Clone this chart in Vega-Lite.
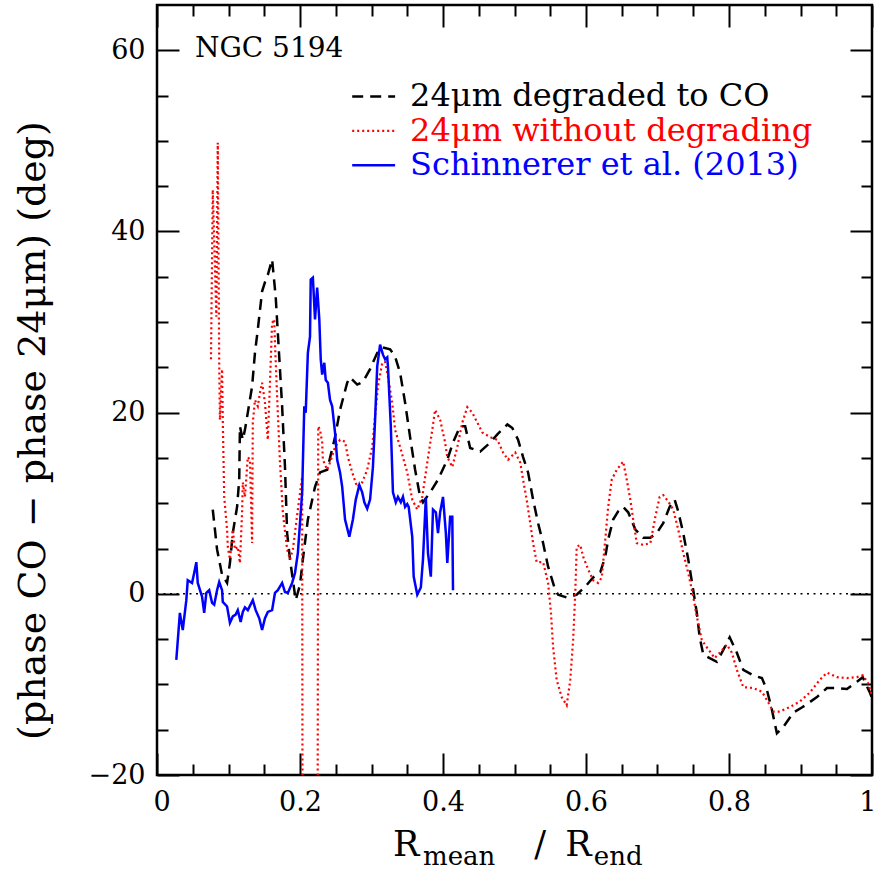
{
  "$schema": "https://vega.github.io/schema/vega-lite/v6.json",
  "width": 715,
  "height": 770,
  "autosize": {"type": "none"},
  "padding": {"left": 157, "top": 5, "right": 6, "bottom": 98},
  "background": "white",
  "config": {
    "view": {"stroke": "black", "strokeWidth": 2.5},
    "font": "DejaVu Serif",
    "axis": {
      "domain": false,
      "grid": false,
      "tickColor": "black",
      "tickWidth": 2,
      "labelColor": "black",
      "labelFont": "DejaVu Serif",
      "labelFontSize": 27,
      "labelOverlap": false,
      "labelFlush": false,
      "titleFont": "DejaVu Serif",
      "titleFontWeight": "normal",
      "titleColor": "black"
    }
  },
  "datasets": {
    "one": [{}],
    "curves": [
      {"s":"a","r":0.078,"p":9.3},{"s":"a","r":0.084,"p":4.9},{"s":"a","r":0.091,"p":2.1},{"s":"a","r":0.098,"p":1.2},{"s":"a","r":0.102,"p":3.4},{"s":"a","r":0.106,"p":6.7},{"s":"a","r":0.112,"p":9.6},{"s":"a","r":0.115,"p":12.6},{"s":"a","r":0.116,"p":18.5},{"s":"a","r":0.120,"p":17.0},{"s":"a","r":0.123,"p":18.1},{"s":"a","r":0.127,"p":20.0},{"s":"a","r":0.133,"p":22.9},{"s":"a","r":0.137,"p":26.6},{"s":"a","r":0.141,"p":29.2},{"s":"a","r":0.147,"p":33.4},{"s":"a","r":0.151,"p":34.4},{"s":"a","r":0.155,"p":35.2},{"s":"a","r":0.161,"p":36.9},{"s":"a","r":0.166,"p":32.8},{"s":"a","r":0.169,"p":28.8},{"s":"a","r":0.175,"p":20.7},{"s":"a","r":0.179,"p":14.0},{"s":"a","r":0.182,"p":6.7},{"s":"a","r":0.186,"p":3.8},{"s":"a","r":0.194,"p":-0.7},{"s":"a","r":0.200,"p":1.0},{"s":"a","r":0.204,"p":3.8},{"s":"a","r":0.211,"p":8.2},{"s":"a","r":0.221,"p":11.8},{"s":"a","r":0.228,"p":13.4},{"s":"a","r":0.238,"p":13.7},{"s":"a","r":0.249,"p":17.3},{"s":"a","r":0.256,"p":20.3},{"s":"a","r":0.266,"p":23.3},{"s":"a","r":0.270,"p":23.9},{"s":"a","r":0.280,"p":23.1},{"s":"a","r":0.288,"p":23.4},{"s":"a","r":0.298,"p":24.8},{"s":"a","r":0.308,"p":26.6},{"s":"a","r":0.316,"p":27.2},{"s":"a","r":0.326,"p":27.0},{"s":"a","r":0.333,"p":26.2},{"s":"a","r":0.340,"p":24.4},{"s":"a","r":0.347,"p":21.1},{"s":"a","r":0.354,"p":17.3},{"s":"a","r":0.361,"p":13.7},{"s":"a","r":0.368,"p":10.7},{"s":"a","r":0.372,"p":10.1},{"s":"a","r":0.382,"p":11.2},{"s":"a","r":0.393,"p":12.6},{"s":"a","r":0.406,"p":14.8},{"s":"a","r":0.414,"p":16.7},{"s":"a","r":0.424,"p":18.5},{"s":"a","r":0.431,"p":18.5},{"s":"a","r":0.438,"p":16.1},{"s":"a","r":0.452,"p":15.7},{"s":"a","r":0.466,"p":16.7},{"s":"a","r":0.476,"p":17.6},{"s":"a","r":0.490,"p":18.7},{"s":"a","r":0.497,"p":18.3},{"s":"a","r":0.505,"p":17.0},{"s":"a","r":0.512,"p":15.1},{"s":"a","r":0.519,"p":13.4},{"s":"a","r":0.526,"p":10.4},{"s":"a","r":0.533,"p":7.8},{"s":"a","r":0.540,"p":5.6},{"s":"a","r":0.547,"p":3.0},{"s":"a","r":0.557,"p":0.4},{"s":"a","r":0.561,"p":-0.1},{"s":"a","r":0.573,"p":-0.4},{"s":"a","r":0.587,"p":-0.1},{"s":"a","r":0.599,"p":0.8},{"s":"a","r":0.610,"p":1.8},{"s":"a","r":0.620,"p":2.4},{"s":"a","r":0.627,"p":4.1},{"s":"a","r":0.631,"p":6.0},{"s":"a","r":0.638,"p":8.2},{"s":"a","r":0.645,"p":9.1},{"s":"a","r":0.652,"p":9.6},{"s":"a","r":0.659,"p":9.0},{"s":"a","r":0.669,"p":7.1},{"s":"a","r":0.680,"p":6.2},{"s":"a","r":0.690,"p":6.2},{"s":"a","r":0.699,"p":6.7},{"s":"a","r":0.708,"p":7.8},{"s":"a","r":0.717,"p":9.6},{"s":"a","r":0.724,"p":10.4},{"s":"a","r":0.729,"p":9.1},{"s":"a","r":0.736,"p":6.7},{"s":"a","r":0.743,"p":3.8},{"s":"a","r":0.750,"p":0.4},{"s":"a","r":0.755,"p":-2.1},{"s":"a","r":0.759,"p":-4.8},{"s":"a","r":0.764,"p":-6.7},{"s":"a","r":0.773,"p":-7.1},{"s":"a","r":0.783,"p":-7.5},{"s":"a","r":0.792,"p":-6.2},{"s":"a","r":0.801,"p":-4.8},{"s":"a","r":0.811,"p":-6.5},{"s":"a","r":0.820,"p":-8.4},{"s":"a","r":0.834,"p":-9.0},{"s":"a","r":0.846,"p":-9.3},{"s":"a","r":0.853,"p":-10.6},{"s":"a","r":0.860,"p":-12.8},{"s":"a","r":0.867,"p":-15.4},{"s":"a","r":0.876,"p":-14.7},{"s":"a","r":0.890,"p":-13.1},{"s":"a","r":0.903,"p":-12.5},{"s":"a","r":0.923,"p":-11.4},{"s":"a","r":0.937,"p":-10.4},{"s":"a","r":0.951,"p":-10.4},{"s":"a","r":0.965,"p":-10.5},{"s":"a","r":0.979,"p":-9.7},{"s":"a","r":0.987,"p":-9.2},{"s":"a","r":0.997,"p":-10.9},{"s":"a","r":1.0,"p":-11.5},
      {"s":"b","r":0.0755,"p":25.9},{"s":"b","r":0.078,"p":44.6},{"s":"b","r":0.083,"p":30.6},{"s":"b","r":0.085,"p":49.8},{"s":"b","r":0.087,"p":25.5},{"s":"b","r":0.088,"p":19.2},{"s":"b","r":0.091,"p":24.8},{"s":"b","r":0.092,"p":19.2},{"s":"b","r":0.094,"p":10.7},{"s":"b","r":0.098,"p":7.1},{"s":"b","r":0.099,"p":5.2},{"s":"b","r":0.102,"p":3.8},{"s":"b","r":0.105,"p":6.0},{"s":"b","r":0.106,"p":7.1},{"s":"b","r":0.109,"p":4.9},{"s":"b","r":0.113,"p":5.2},{"s":"b","r":0.116,"p":3.4},{"s":"b","r":0.119,"p":9.0},{"s":"b","r":0.120,"p":12.3},{"s":"b","r":0.123,"p":10.7},{"s":"b","r":0.127,"p":15.1},{"s":"b","r":0.130,"p":14.8},{"s":"b","r":0.133,"p":5.6},{"s":"b","r":0.134,"p":18.9},{"s":"b","r":0.137,"p":21.4},{"s":"b","r":0.141,"p":20.7},{"s":"b","r":0.144,"p":22.2},{"s":"b","r":0.147,"p":23.3},{"s":"b","r":0.151,"p":21.1},{"s":"b","r":0.155,"p":17.0},{"s":"b","r":0.158,"p":23.3},{"s":"b","r":0.161,"p":29.9},{"s":"b","r":0.164,"p":30.3},{"s":"b","r":0.165,"p":27.7},{"s":"b","r":0.168,"p":21.8},{"s":"b","r":0.172,"p":14.5},{"s":"b","r":0.176,"p":9.0},{"s":"b","r":0.182,"p":4.9},{"s":"b","r":0.186,"p":3.8},{"s":"b","r":0.190,"p":4.9},{"s":"b","r":0.197,"p":9.3},{"s":"b","r":0.203,"p":12.9},{"s":"b","r":0.204,"p":-60},{"s":"b","r":0.224,"p":-60},{"s":"b","r":0.2255,"p":18.5},{"s":"b","r":0.228,"p":18.1},{"s":"b","r":0.231,"p":16.7},{"s":"b","r":0.232,"p":14.8},{"s":"b","r":0.238,"p":13.7},{"s":"b","r":0.242,"p":14.5},{"s":"b","r":0.249,"p":16.2},{"s":"b","r":0.256,"p":17.0},{"s":"b","r":0.263,"p":16.8},{"s":"b","r":0.267,"p":15.1},{"s":"b","r":0.273,"p":13.4},{"s":"b","r":0.280,"p":11.8},{"s":"b","r":0.287,"p":12.3},{"s":"b","r":0.294,"p":13.7},{"s":"b","r":0.301,"p":16.2},{"s":"b","r":0.305,"p":19.6},{"s":"b","r":0.309,"p":22.9},{"s":"b","r":0.315,"p":25.5},{"s":"b","r":0.319,"p":25.6},{"s":"b","r":0.323,"p":24.0},{"s":"b","r":0.329,"p":21.1},{"s":"b","r":0.333,"p":18.1},{"s":"b","r":0.340,"p":16.2},{"s":"b","r":0.350,"p":13.4},{"s":"b","r":0.357,"p":10.4},{"s":"b","r":0.364,"p":9.3},{"s":"b","r":0.371,"p":10.7},{"s":"b","r":0.378,"p":14.5},{"s":"b","r":0.385,"p":18.1},{"s":"b","r":0.389,"p":20.3},{"s":"b","r":0.396,"p":19.2},{"s":"b","r":0.403,"p":16.7},{"s":"b","r":0.406,"p":15.1},{"s":"b","r":0.413,"p":14.0},{"s":"b","r":0.420,"p":16.2},{"s":"b","r":0.427,"p":18.9},{"s":"b","r":0.434,"p":20.6},{"s":"b","r":0.441,"p":20.0},{"s":"b","r":0.448,"p":18.9},{"s":"b","r":0.455,"p":17.8},{"s":"b","r":0.466,"p":17.3},{"s":"b","r":0.476,"p":17.0},{"s":"b","r":0.484,"p":15.6},{"s":"b","r":0.491,"p":14.8},{"s":"b","r":0.501,"p":15.6},{"s":"b","r":0.508,"p":14.5},{"s":"b","r":0.512,"p":12.6},{"s":"b","r":0.517,"p":10.4},{"s":"b","r":0.522,"p":7.8},{"s":"b","r":0.526,"p":5.6},{"s":"b","r":0.531,"p":3.5},{"s":"b","r":0.540,"p":3.5},{"s":"b","r":0.547,"p":1.2},{"s":"b","r":0.551,"p":-2.1},{"s":"b","r":0.554,"p":-5.9},{"s":"b","r":0.559,"p":-9.5},{"s":"b","r":0.566,"p":-11.4},{"s":"b","r":0.573,"p":-12.3},{"s":"b","r":0.578,"p":-9.5},{"s":"b","r":0.582,"p":-5.1},{"s":"b","r":0.585,"p":0.1},{"s":"b","r":0.587,"p":5.2},{"s":"b","r":0.592,"p":5.4},{"s":"b","r":0.596,"p":4.1},{"s":"b","r":0.603,"p":2.7},{"s":"b","r":0.610,"p":1.5},{"s":"b","r":0.617,"p":1.2},{"s":"b","r":0.622,"p":1.8},{"s":"b","r":0.627,"p":6.0},{"s":"b","r":0.631,"p":9.6},{"s":"b","r":0.636,"p":12.6},{"s":"b","r":0.643,"p":13.7},{"s":"b","r":0.652,"p":14.6},{"s":"b","r":0.657,"p":12.6},{"s":"b","r":0.662,"p":10.4},{"s":"b","r":0.666,"p":8.2},{"s":"b","r":0.671,"p":5.6},{"s":"b","r":0.680,"p":5.4},{"s":"b","r":0.690,"p":5.6},{"s":"b","r":0.697,"p":8.5},{"s":"b","r":0.703,"p":10.7},{"s":"b","r":0.708,"p":10.9},{"s":"b","r":0.715,"p":10.2},{"s":"b","r":0.722,"p":9.3},{"s":"b","r":0.729,"p":7.1},{"s":"b","r":0.736,"p":4.5},{"s":"b","r":0.743,"p":2.3},{"s":"b","r":0.750,"p":-0.3},{"s":"b","r":0.755,"p":-2.5},{"s":"b","r":0.762,"p":-5.1},{"s":"b","r":0.769,"p":-5.9},{"s":"b","r":0.780,"p":-7.1},{"s":"b","r":0.787,"p":-6.5},{"s":"b","r":0.797,"p":-5.6},{"s":"b","r":0.804,"p":-6.5},{"s":"b","r":0.811,"p":-8.4},{"s":"b","r":0.820,"p":-10.3},{"s":"b","r":0.834,"p":-10.4},{"s":"b","r":0.846,"p":-10.8},{"s":"b","r":0.855,"p":-12.0},{"s":"b","r":0.862,"p":-13.0},{"s":"b","r":0.871,"p":-13.0},{"s":"b","r":0.885,"p":-12.5},{"s":"b","r":0.899,"p":-11.9},{"s":"b","r":0.913,"p":-10.9},{"s":"b","r":0.927,"p":-9.5},{"s":"b","r":0.937,"p":-8.7},{"s":"b","r":0.951,"p":-9.2},{"s":"b","r":0.965,"p":-9.3},{"s":"b","r":0.979,"p":-9.2},{"s":"b","r":0.987,"p":-9.0},{"s":"b","r":0.994,"p":-9.8},{"s":"b","r":1.0,"p":-11.2},
      {"s":"c","r":0.027,"p":-7.3},{"s":"c","r":0.032,"p":-2.1},{"s":"c","r":0.036,"p":-4.0},{"s":"c","r":0.041,"p":-0.7},{"s":"c","r":0.043,"p":1.5},{"s":"c","r":0.049,"p":1.2},{"s":"c","r":0.052,"p":2.3},{"s":"c","r":0.055,"p":3.5},{"s":"c","r":0.057,"p":1.2},{"s":"c","r":0.063,"p":-0.3},{"s":"c","r":0.066,"p":-2.1},{"s":"c","r":0.069,"p":0.1},{"s":"c","r":0.073,"p":0.4},{"s":"c","r":0.077,"p":-1.0},{"s":"c","r":0.080,"p":-1.2},{"s":"c","r":0.084,"p":0.4},{"s":"c","r":0.087,"p":1.3},{"s":"c","r":0.091,"p":0.4},{"s":"c","r":0.092,"p":-0.9},{"s":"c","r":0.098,"p":-1.4},{"s":"c","r":0.102,"p":-3.2},{"s":"c","r":0.106,"p":-2.5},{"s":"c","r":0.110,"p":-2.3},{"s":"c","r":0.113,"p":-1.8},{"s":"c","r":0.117,"p":-3.1},{"s":"c","r":0.120,"p":-2.0},{"s":"c","r":0.123,"p":-1.5},{"s":"c","r":0.127,"p":-1.8},{"s":"c","r":0.134,"p":-0.7},{"s":"c","r":0.138,"p":-1.8},{"s":"c","r":0.143,"p":-2.7},{"s":"c","r":0.147,"p":-4.0},{"s":"c","r":0.151,"p":-2.7},{"s":"c","r":0.155,"p":-2.0},{"s":"c","r":0.161,"p":-1.8},{"s":"c","r":0.165,"p":0.1},{"s":"c","r":0.169,"p":0.4},{"s":"c","r":0.175,"p":1.2},{"s":"c","r":0.179,"p":0.2},{"s":"c","r":0.183,"p":0.1},{"s":"c","r":0.189,"p":1.2},{"s":"c","r":0.193,"p":2.3},{"s":"c","r":0.197,"p":4.5},{"s":"c","r":0.203,"p":11.2},{"s":"c","r":0.206,"p":20.7},{"s":"c","r":0.208,"p":20.0},{"s":"c","r":0.211,"p":26.6},{"s":"c","r":0.214,"p":28.4},{"s":"c","r":0.215,"p":34.7},{"s":"c","r":0.218,"p":34.9},{"s":"c","r":0.221,"p":30.3},{"s":"c","r":0.224,"p":33.8},{"s":"c","r":0.227,"p":30.3},{"s":"c","r":0.229,"p":25.9},{"s":"c","r":0.231,"p":24.2},{"s":"c","r":0.234,"p":25.5},{"s":"c","r":0.236,"p":23.6},{"s":"c","r":0.239,"p":23.3},{"s":"c","r":0.242,"p":21.4},{"s":"c","r":0.245,"p":20.7},{"s":"c","r":0.249,"p":17.8},{"s":"c","r":0.252,"p":14.8},{"s":"c","r":0.256,"p":13.4},{"s":"c","r":0.259,"p":11.8},{"s":"c","r":0.263,"p":8.2},{"s":"c","r":0.269,"p":6.3},{"s":"c","r":0.274,"p":8.2},{"s":"c","r":0.278,"p":10.4},{"s":"c","r":0.283,"p":12.0},{"s":"c","r":0.287,"p":11.2},{"s":"c","r":0.290,"p":10.1},{"s":"c","r":0.294,"p":9.4},{"s":"c","r":0.298,"p":10.4},{"s":"c","r":0.302,"p":14.0},{"s":"c","r":0.305,"p":19.2},{"s":"c","r":0.308,"p":25.1},{"s":"c","r":0.312,"p":27.5},{"s":"c","r":0.316,"p":26.4},{"s":"c","r":0.319,"p":25.9},{"s":"c","r":0.322,"p":26.1},{"s":"c","r":0.323,"p":25.1},{"s":"c","r":0.327,"p":18.5},{"s":"c","r":0.330,"p":11.2},{"s":"c","r":0.334,"p":10.1},{"s":"c","r":0.337,"p":10.7},{"s":"c","r":0.341,"p":10.1},{"s":"c","r":0.344,"p":10.7},{"s":"c","r":0.347,"p":9.6},{"s":"c","r":0.350,"p":9.9},{"s":"c","r":0.352,"p":9.6},{"s":"c","r":0.357,"p":6.3},{"s":"c","r":0.359,"p":1.9},{"s":"c","r":0.364,"p":-0.1},{"s":"c","r":0.369,"p":0.7},{"s":"c","r":0.372,"p":3.8},{"s":"c","r":0.376,"p":10.6},{"s":"c","r":0.379,"p":4.5},{"s":"c","r":0.383,"p":1.9},{"s":"c","r":0.386,"p":9.3},{"s":"c","r":0.390,"p":9.0},{"s":"c","r":0.393,"p":6.7},{"s":"c","r":0.396,"p":9.0},{"s":"c","r":0.400,"p":10.7},{"s":"c","r":0.404,"p":6.7},{"s":"c","r":0.406,"p":3.4},{"s":"c","r":0.410,"p":8.5},{"s":"c","r":0.413,"p":8.5},{"s":"c","r":0.414,"p":0.4}
    ]
  },
  "resolve": {"axis": {"x": "independent", "y": "independent"}},
  "layer": [
    {
      "data": {"name": "one"},
      "mark": {"type": "rule", "color": "black", "strokeWidth": 1.6, "strokeDash": [2, 4.5]},
      "encoding": {
        "x": {"datum": 0, "type": "quantitative", "scale": {"domain": [0, 1], "nice": false, "zero": false},
              "axis": {"orient": "bottom", "values": [0.05,0.1,0.15,0.25,0.3,0.35,0.45,0.5,0.55,0.65,0.7,0.75,0.85,0.9,0.95], "tickSize": -11, "labels": false, "title": null}},
        "x2": {"datum": 1},
        "y": {"datum": 0, "type": "quantitative", "scale": {"domain": [-20, 65], "nice": false, "zero": false},
              "axis": {"orient": "left", "values": [-15,-10,-5,5,10,15,25,30,35,45,50,55], "tickSize": -11, "labels": false, "title": null}}
      }
    },
    {
      "data": {"name": "curves"},
      "transform": [{"filter": "datum.s == 'a'"}],
      "mark": {"type": "line", "clip": true, "color": "black", "strokeWidth": 2.5, "strokeDash": [11, 7]},
      "encoding": {
        "x": {"field": "r", "type": "quantitative",
              "axis": {"orient": "bottom", "values": [0, 0.2, 0.4, 0.6, 0.8, 1], "format": "~g", "tickSize": -22, "labelPadding": 36, "labelFlush": true, "labelFlushOffset": 4, "title": null}},
        "y": {"field": "p", "type": "quantitative",
              "axis": {"orient": "left", "values": [-20, 0, 20, 40, 60], "format": "d", "tickSize": -22, "labelPadding": 34,
                       "title": "(phase CO − phase 24μm) (deg)", "titleFontSize": 38, "titlePadding": 36, "titleY": 425}}
      }
    },
    {
      "data": {"name": "curves"},
      "transform": [{"filter": "datum.s == 'b'"}],
      "mark": {"type": "line", "clip": true, "color": "#ff0000", "strokeWidth": 2.2, "strokeDash": [2, 3]},
      "encoding": {
        "x": {"field": "r", "type": "quantitative",
              "axis": {"orient": "top", "values": [0, 0.2, 0.4, 0.6, 0.8, 1], "tickSize": -22, "labels": false, "title": null}},
        "y": {"field": "p", "type": "quantitative",
              "axis": {"orient": "right", "values": [-20, 0, 20, 40, 60], "tickSize": -22, "labels": false, "title": null}}
      }
    },
    {
      "data": {"name": "curves"},
      "transform": [{"filter": "datum.s == 'c'"}],
      "mark": {"type": "line", "clip": true, "color": "#0000ff", "strokeWidth": 2.5},
      "encoding": {
        "x": {"field": "r", "type": "quantitative",
              "axis": {"orient": "top", "values": [0.05,0.1,0.15,0.25,0.3,0.35,0.45,0.5,0.55,0.65,0.7,0.75,0.85,0.9,0.95], "tickSize": -11, "labels": false, "title": null}},
        "y": {"field": "p", "type": "quantitative",
              "axis": {"orient": "right", "values": [-15,-10,-5,5,10,15,25,30,35,45,50,55], "tickSize": -11, "labels": false, "title": null}}
      }
    },
    {
      "data": {"name": "one"},
      "mark": {"type": "rule", "color": "black", "strokeWidth": 2.5, "strokeDash": [11, 7]},
      "encoding": {
        "x": {"datum": 0.273, "type": "quantitative", "axis": null},
        "x2": {"datum": 0.333},
        "y": {"datum": 54.9, "type": "quantitative", "axis": null}
      }
    },
    {
      "data": {"name": "one"},
      "mark": {"type": "rule", "color": "#ff0000", "strokeWidth": 2.2, "strokeDash": [2, 3]},
      "encoding": {
        "x": {"datum": 0.273, "type": "quantitative", "axis": null},
        "x2": {"datum": 0.333},
        "y": {"datum": 51.1, "type": "quantitative", "axis": null}
      }
    },
    {
      "data": {"name": "one"},
      "mark": {"type": "rule", "color": "#0000ff", "strokeWidth": 2.5},
      "encoding": {
        "x": {"datum": 0.273, "type": "quantitative", "axis": null},
        "x2": {"datum": 0.333},
        "y": {"datum": 47.3, "type": "quantitative", "axis": null}
      }
    },
    {
      "data": {"name": "one"},
      "mark": {"type": "text", "text": "24μm degraded to CO", "color": "black", "font": "DejaVu Serif", "fontSize": 32, "align": "left", "baseline": "middle"},
      "encoding": {
        "x": {"datum": 0.354, "type": "quantitative", "axis": null},
        "y": {"datum": 54.9, "type": "quantitative", "axis": null}
      }
    },
    {
      "data": {"name": "one"},
      "mark": {"type": "text", "text": "24μm without degrading", "color": "#ff0000", "font": "DejaVu Serif", "fontSize": 32, "align": "left", "baseline": "middle"},
      "encoding": {
        "x": {"datum": 0.354, "type": "quantitative", "axis": null},
        "y": {"datum": 51.1, "type": "quantitative", "axis": null}
      }
    },
    {
      "data": {"name": "one"},
      "mark": {"type": "text", "text": "Schinnerer et al. (2013)", "color": "#0000ff", "font": "DejaVu Serif", "fontSize": 32, "align": "left", "baseline": "middle"},
      "encoding": {
        "x": {"datum": 0.354, "type": "quantitative", "axis": null},
        "y": {"datum": 47.3, "type": "quantitative", "axis": null}
      }
    },
    {
      "data": {"name": "one"},
      "mark": {"type": "text", "text": "NGC 5194", "color": "black", "font": "DejaVu Serif", "fontSize": 28, "align": "left", "baseline": "middle"},
      "encoding": {
        "x": {"datum": 0.053, "type": "quantitative", "axis": null},
        "y": {"datum": 60.1, "type": "quantitative", "axis": null}
      }
    },
    {
      "data": {"name": "one"},
      "mark": {"type": "text", "text": "R", "color": "black", "font": "DejaVu Serif", "fontSize": 35, "align": "left", "baseline": "alphabetic"},
      "encoding": {
        "x": {"datum": 0.330, "type": "quantitative", "axis": null},
        "y": {"datum": -28.9, "type": "quantitative", "axis": null}
      }
    },
    {
      "data": {"name": "one"},
      "mark": {"type": "text", "text": "mean", "color": "black", "font": "DejaVu Serif", "fontSize": 26, "align": "left", "baseline": "alphabetic"},
      "encoding": {
        "x": {"datum": 0.372, "type": "quantitative", "axis": null},
        "y": {"datum": -29.9, "type": "quantitative", "axis": null}
      }
    },
    {
      "data": {"name": "one"},
      "mark": {"type": "text", "text": "/", "color": "black", "font": "DejaVu Serif", "fontSize": 35, "align": "center", "baseline": "alphabetic"},
      "encoding": {
        "x": {"datum": 0.536, "type": "quantitative", "axis": null},
        "y": {"datum": -28.9, "type": "quantitative", "axis": null}
      }
    },
    {
      "data": {"name": "one"},
      "mark": {"type": "text", "text": "R", "color": "black", "font": "DejaVu Serif", "fontSize": 35, "align": "left", "baseline": "alphabetic"},
      "encoding": {
        "x": {"datum": 0.571, "type": "quantitative", "axis": null},
        "y": {"datum": -28.9, "type": "quantitative", "axis": null}
      }
    },
    {
      "data": {"name": "one"},
      "mark": {"type": "text", "text": "end", "color": "black", "font": "DejaVu Serif", "fontSize": 26, "align": "left", "baseline": "alphabetic"},
      "encoding": {
        "x": {"datum": 0.611, "type": "quantitative", "axis": null},
        "y": {"datum": -29.9, "type": "quantitative", "axis": null}
      }
    }
  ]
}
